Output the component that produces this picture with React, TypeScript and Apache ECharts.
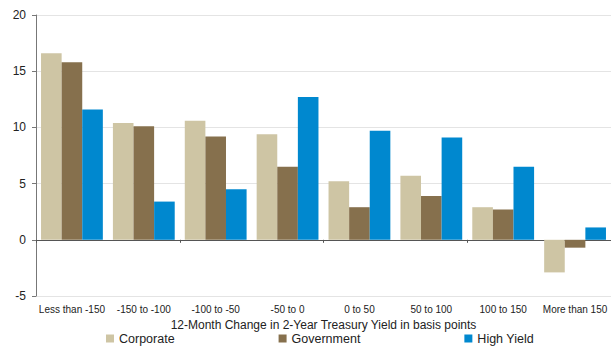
import React, { useEffect, useRef } from "react";
import * as echarts from "echarts";

const categories = [
  "Less than -150",
  "-150 to -100",
  "-100 to -50",
  "-50 to 0",
  "0 to 50",
  "50 to 100",
  "100 to 150",
  "More than 150",
];
const corporate = [16.6, 10.4, 10.6, 9.4, 5.2, 5.7, 2.9, -2.9];
const government = [15.8, 10.1, 9.2, 6.5, 2.9, 3.9, 2.7, -0.7];
const highYield = [11.6, 3.4, 4.5, 12.7, 9.7, 9.1, 6.5, 1.1];
const yTicks = { min: -5, max: 20, interval: 5 };
const xTitle = "12-Month Change in 2-Year Treasury Yield in basis points";

const FONT = "Liberation Sans, Arial, sans-serif";

export default function App() {
  const ref = useRef<HTMLDivElement>(null);
  useEffect(() => {
    if (!ref.current) return;
    const chart = echarts.init(ref.current, null, { renderer: "svg" });
    chart.setOption({
      animation: false,
      textStyle: { fontFamily: FONT },
      grid: { left: 36, right: 0, top: 15, bottom: 51, containLabel: false },
      legend: {
        left: 106,
        top: 332,
        padding: 0,
        itemWidth: 8,
        itemHeight: 8,
        itemGap: 104,
        icon: "rect",
        textStyle: { fontSize: 12.5, color: "#222", fontFamily: FONT, lineHeight: 13 },
        data: ["Corporate", "Government", "High Yield"],
      },
      xAxis: [
        {
          type: "category",
          data: categories,
          position: "bottom",
          axisLine: { show: false, onZero: false },
          axisTick: { show: false },
          axisLabel: { fontSize: 10, color: "#222", margin: 8, interval: 0 },
          name: xTitle,
          nameLocation: "middle",
          nameGap: 22,
          nameTextStyle: { fontSize: 12, color: "#222" },
        },
        {
          type: "category",
          data: categories,
          position: "bottom",
          axisLine: { show: true, onZero: true, lineStyle: { color: "#555", width: 1 } },
          axisTick: { show: true, length: 3, lineStyle: { color: "#555" } },
          axisLabel: { show: false },
        },
      ],
      yAxis: {
        type: "value",
        min: yTicks.min,
        max: yTicks.max,
        interval: yTicks.interval,
        axisLine: { show: true, lineStyle: { color: "#777", width: 1 } },
        axisTick: { show: true, length: 4, lineStyle: { color: "#777" } },
        axisLabel: { fontSize: 12, color: "#222", margin: 10 },
        splitLine: { show: true, lineStyle: { color: "#e4e4e4", width: 1 } },
      },
      series: [
        { name: "Corporate", type: "bar", data: corporate, itemStyle: { color: "#CEC5A4" }, barGap: "0%", barCategoryGap: "14%" },
        { name: "Government", type: "bar", data: government, itemStyle: { color: "#86704D" }, barGap: "0%", barCategoryGap: "14%" },
        { name: "High Yield", type: "bar", data: highYield, itemStyle: { color: "#0088CF" }, barGap: "0%", barCategoryGap: "14%" },
      ],
    });
    return () => chart.dispose();
  }, []);
  return <div ref={ref} style={{ width: 611, height: 347, position: "absolute", left: 0, top: 0 }} />;
}
